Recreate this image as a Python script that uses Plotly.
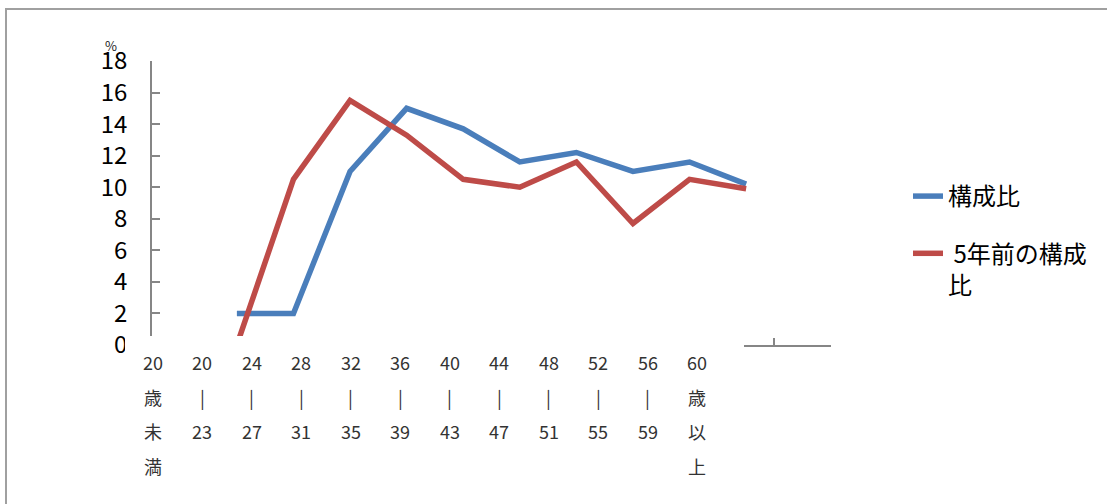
import plotly.graph_objects as go

# ---- data ----
age_categories = ["20歳未満", "20-23", "24-27", "28-31", "32-35", "36-39",
                  "40-43", "44-47", "48-51", "52-55", "56-59", "60歳以上"]
label_rows = [["20", "歳", "未", "満"], ["20", "|", "23"], ["24", "|", "27"],
              ["28", "|", "31"], ["32", "|", "35"], ["36", "|", "39"],
              ["40", "|", "43"], ["44", "|", "47"], ["48", "|", "51"],
              ["52", "|", "55"], ["56", "|", "59"], ["60", "歳", "以", "上"]]
share_now = [None, 2.0, 2.0, 11.0, 15.0, 13.7, 11.6, 12.2, 11.0, 11.6, 10.2, None]
share_5y = [None, 0.0, 10.5, 15.5, 13.3, 10.5, 10.0, 11.6, 7.7, 10.5, 9.9, None]
y_ticks = [0, 2, 4, 6, 8, 10, 12, 14, 16, 18]

W, H = 1107, 504
ML, MR, MT, MB = 152, 276, 61, 159
PW, PH = W - ML - MR, H - MT - MB


def px_x(p):
    return (p - ML) / PW


def px_y(p):
    return (H - MB - p) / PH


fig = go.Figure()
fig.add_trace(go.Scatter(x=age_categories, y=share_now, mode="lines",
                         name="構成比", legendgroup="a",
                         line=dict(color="#4A7EBB", width=5.5)))
fig.add_trace(go.Scatter(x=age_categories, y=share_5y, mode="lines",
                         name=" 5年前の構成<br>比", legendgroup="b",
                         line=dict(color="#BE4B48", width=5.5)))

axis_col = "#868686"
fig.update_layout(
    width=W, height=H,
    margin=dict(l=ML, r=MR, t=MT, b=MB, pad=0),
    paper_bgcolor="white", plot_bgcolor="white",
    font=dict(family="Noto Sans CJK JP", color="black"),
    xaxis=dict(type="category", categoryorder="array", categoryarray=age_categories,
               range=[-0.5, len(age_categories) - 0.5],
               showticklabels=False, showgrid=False, zeroline=False,
               showline=True, linecolor=axis_col, linewidth=1.5,
               ticks="inside", ticklen=7, tickcolor=axis_col, tickwidth=1.5,
               tickson="boundaries"),
    yaxis=dict(range=[0, 18], tickvals=y_ticks, showgrid=False, zeroline=False,
               showline=True, linecolor=axis_col, linewidth=1.5,
               ticks="inside", ticklen=8, tickcolor=axis_col, tickwidth=1.5,
               tickfont=dict(size=24, color="black", family="Noto Sans CJK JP"),
               ticklabelstandoff=18),
    showlegend=True,
    legend=dict(x=px_x(908), y=px_y(174), xanchor="left", yanchor="top",
                font=dict(size=24, color="black", family="Noto Sans CJK JP"),
                traceorder="grouped", tracegroupgap=23, valign="top",
                bgcolor="rgba(0,0,0,0)", itemwidth=30),
)

shapes = [
    # pasted label panel covering the bottom of the axis
    dict(type="rect", xref="paper", yref="paper", layer="above",
         x0=px_x(125), x1=px_x(744), y0=px_y(500), y1=px_y(336),
         fillcolor="white", line=dict(width=0)),
    # outer chart border
    dict(type="rect", xref="paper", yref="paper", layer="above",
         x0=px_x(6), x1=px_x(1125), y0=px_y(520), y1=px_y(9),
         fillcolor="rgba(0,0,0,0)", line=dict(color="#A0A0A0", width=2)),
]
fig.update_layout(shapes=shapes)

annotations = [dict(text="%", xref="paper", yref="paper", x=px_x(111), y=px_y(46),
                    showarrow=False, font=dict(size=13, color="#222"),
                    xanchor="center", yanchor="middle")]
n = len(label_rows)
first_px, last_px = 153, 697
row_px = [362, 397, 431, 466]
for i, rows in enumerate(label_rows):
    cx = first_px + (last_px - first_px) * i / (n - 1)
    for r, t in enumerate(rows):
        annotations.append(dict(
            text=t, xref="paper", yref="paper", x=px_x(cx), y=px_y(row_px[r]),
            showarrow=False, xanchor="center", yanchor="middle",
            font=dict(size=18, color="#333333",
                      family="Liberation Sans Narrow, Noto Sans CJK JP")))
fig.update_layout(annotations=annotations)

fig.write_html("out.html")
